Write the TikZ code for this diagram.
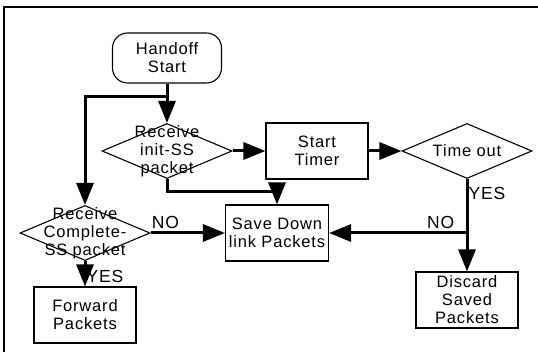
\documentclass[tikz,border=0pt]{standalone}
\usepackage{fontspec}
\setmainfont[LetterSpace=5]{Liberation Sans}
\usetikzlibrary{arrows.meta}
\usetikzlibrary{shapes, positioning}

\begin{document}
\begin{tikzpicture}[x=1pt, y=-1pt,
				   every node/.style={font=\fontsize{16.5}{18}\selectfont, align=center, line width=1.1pt},
				   start/.style={draw, rectangle, rounded corners=15pt, minimum width=109pt, minimum height=50pt},
				   box/.style={draw, rectangle, minimum width=102pt, minimum height=56pt},
				   decision/.style={draw, diamond, minimum width=130pt, minimum height=55pt, inner sep=0pt},
				   conn/.style={line width=3pt, -{Triangle[length=22pt, width=17pt]}},
				   lbl/.style={font=\fontsize{17.5}{19}\selectfont}]
\useasboundingbox (0,0) rectangle (538,352);
\draw[line width=1.8pt] (538,7) -- (4,7) -- (4,352);

\node[start] (hstart) at (167,58) {Handoff\\Start};
\node[decision, label={center:Receive\\init-SS\\packet}] (rinit) at (167,151) {};
\node[box] (timer) at (317,151) {Start\\Timer};
\node[decision, label={center:Time out}] (tout) at (467,151) {};
\node[decision, label={center:Receive\\Complete-\\SS packet}] (rcomp) at (85,233) {};
\node[box] (save) at (277,233) {Save Down\\link Packets};
\node[box] (fwd) at (85,315) {Forward\\Packets};
\node[box] (discard) at (467,300) {Discard\\Saved\\Packets};

\coordinate (split) at (167,97);
\coordinate (back) at (tout.south |- save.east);

\draw[conn] (hstart) -- (rinit);
\draw[conn] (split) -| (rcomp.north);
\draw[conn] (rinit.east) -- (timer.west);
\draw[conn] (timer.east) -- (tout.west);
\draw[conn] (rinit.south) -- ++(0,12) -| (save.north);
\draw[conn] (rcomp.east) -- node[lbl, above, pos=0.2]{NO} (save.west);
\draw[conn] (rcomp.south) -- node[lbl, right, pos=0.6, inner sep=1pt]{YES} (fwd.north);
\draw[conn] (tout.south) -- node[lbl, right, pos=0.16, inner sep=1pt]{YES} (discard.north);
\draw[conn] (back) -- node[lbl, above, pos=0.19]{NO} (save.east);
\end{tikzpicture}
\end{document}
